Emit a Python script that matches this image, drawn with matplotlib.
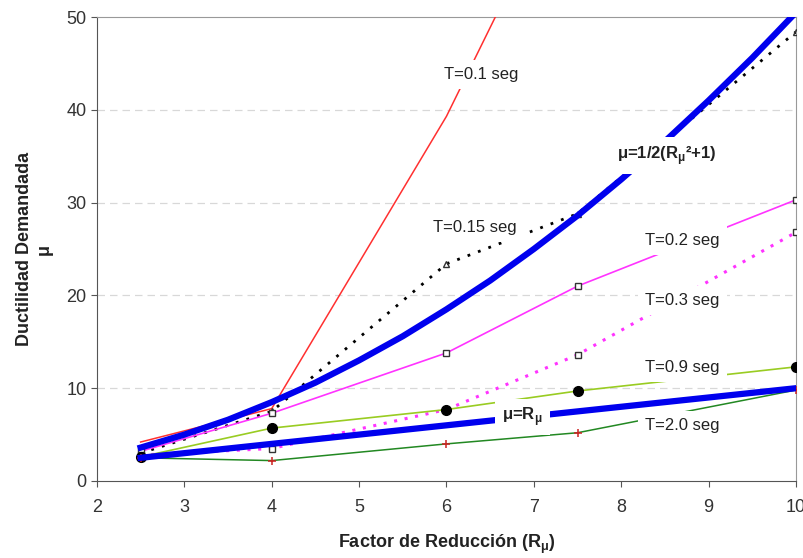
import matplotlib.pyplot as plt

plt.rcParams['font.family'] = ['Liberation Sans', 'DejaVu Sans']
plt.rcParams['mathtext.fontset'] = 'custom'
plt.rcParams['mathtext.rm'] = 'Liberation Sans'
plt.rcParams['mathtext.bf'] = 'Liberation Sans:bold'

R = [2.5, 4, 6, 7.5, 10]

t01 = [4.2, 7.8, 39.3, 68.0, 110.0]
t015 = [3.0, 7.5, 23.4, 28.8, 48.4]
t02 = [3.2, 7.3, 13.8, 21.0, 30.3]
t03 = [2.8, 3.5, 7.7, 13.6, 26.8]
t09 = [2.6, 5.7, 7.7, 9.7, 12.3]
t20 = [2.5, 2.2, 4.0, 5.2, 9.8]

# curvas teoricas
R_teo = [2.5, 3, 3.5, 4, 4.5, 5, 5.5, 6, 6.5, 7, 7.5, 8, 8.5, 9, 9.5, 10]
mu_cuad = [3.6, 5.0, 6.6, 8.5, 10.6, 13.0, 15.6, 18.5, 21.6, 25.0, 28.6, 32.5, 36.6, 41.0, 45.6, 50.5]
mu_igual = [2.5, 3, 3.5, 4, 4.5, 5, 5.5, 6, 6.5, 7, 7.5, 8, 8.5, 9, 9.5, 10]

plt.figure(figsize=(8.04, 5.58), dpi=100)
ax = plt.axes([0.1206, 0.138, 0.8694, 0.8315])

ax.plot(R, t01, color='#ff3030', lw=1.1, zorder=3)
ax.plot(R, t015, color='black', lw=2, ls=(0, (1, 3)), marker='^', ms=5,
        mfc='none', mec='#333333', zorder=3)
ax.plot(R, t02, color='#ff33ff', lw=1.2, marker='s', ms=4.5, mfc='white',
        mec='#333333', zorder=3)
ax.plot(R, t03, color='#ff33ff', lw=2.2, ls=(0, (1, 2.5)), marker='s', ms=4.5,
        mfc='white', mec='#333333', zorder=3)
ax.plot(R, t09, color='#99cc22', lw=1.2, marker='o', ms=7, mfc='black',
        mec='black', zorder=3)
ax.plot(R, t20, color='#228822', lw=1.1, marker='+', ms=6, mec='#cc2222',
        mew=1.1, zorder=3)
ax.plot(R_teo, mu_cuad, color='#0000ee', lw=4.5, zorder=4)
ax.plot(R_teo, mu_igual, color='#0000ee', lw=4.5, zorder=4)

caja = dict(facecolor='white', edgecolor='none', pad=5)
etiquetas = [
    (6.4, 43.8, 'T=0.1 seg', 'normal'),
    (6.32, 27.3, 'T=0.15 seg', 'normal'),
    (8.7, 25.9, 'T=0.2 seg', 'normal'),
    (8.7, 19.5, 'T=0.3 seg', 'normal'),
    (8.7, 12.2, 'T=0.9 seg', 'normal'),
    (8.7, 6.0, 'T=2.0 seg', 'normal'),
    (8.52, 35.1, r'μ=1/2(R$_{\mathbf{\mu}}$²+1)', 'bold'),
    (6.87, 6.9, r'μ=R$_{\mathbf{\mu}}$', 'bold'),
]
for x, y, txt, peso in etiquetas:
    ax.text(x, y, txt, fontsize=12, fontweight=peso, ha='center', va='center',
            color='#222222', bbox=caja, zorder=6)

ax.set_xlim(2, 10)
ax.set_ylim(0, 50)
ax.set_xticks(range(2, 11))
ax.set_yticks(range(0, 51, 10))
for y in [10, 20, 30, 40]:
    ax.axhline(y, color='#d8d8d8', lw=0.9, ls=(0, (6, 4)), zorder=1)

for lado in ['top', 'right']:
    ax.spines[lado].set_color('#999999')
for lado in ['left', 'bottom']:
    ax.spines[lado].set_color('#555555')
ax.tick_params(direction='out', length=4, colors='#555555', labelsize=13,
               labelcolor='#333333')
ax.tick_params(axis='x', pad=9)

ax.set_xlabel(r'Factor de Reducción (R$_{\mathbf{\mu}}$)', fontsize=13,
              fontweight='bold', color='#222222', labelpad=12)
ax.set_ylabel('Ductilidad Demandada\nμ', fontsize=13, fontweight='bold',
              color='#222222', labelpad=10)

plt.savefig('out.png', dpi=100)
